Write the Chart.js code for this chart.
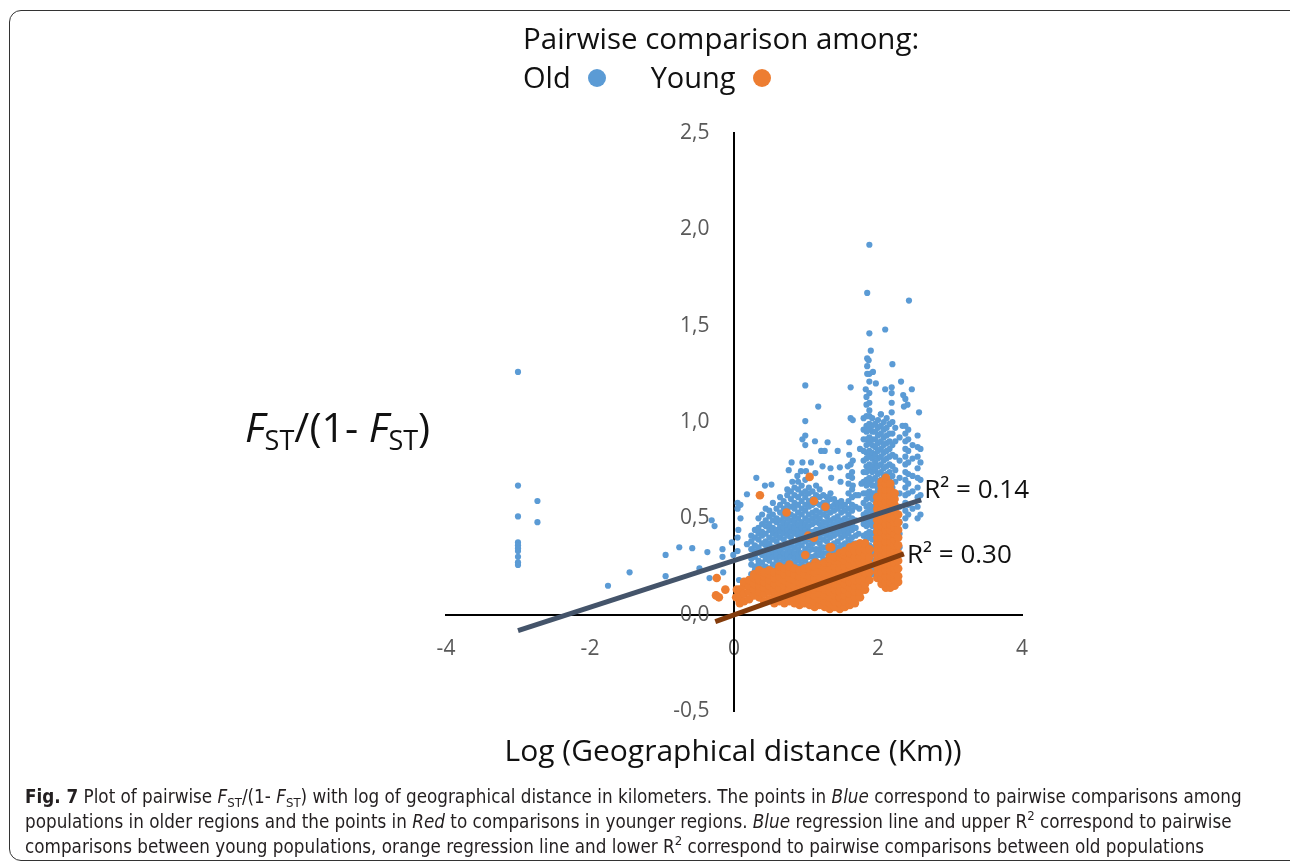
<!DOCTYPE html>
<html>
<head>
<meta charset="utf-8">
<script src="https://cdn.jsdelivr.net/npm/chart.js@4.4.1/dist/chart.umd.min.js"></script>
<style>
  html, body { margin: 0; padding: 0; background: #fff; }
  body { width: 1290px; height: 866px; position: relative; overflow: hidden; font-family: "Open Sans", sans-serif; }
  #frame { position: absolute; left: 9px; top: 10px; width: 1300px; height: 851px; border: 1.5px solid #333; border-radius: 12px; box-sizing: border-box; }
  #wrap { position: absolute; left: 0; top: 0; width: 1290px; height: 866px; }
  .title { position: absolute; left: 523px; top: 17px; font-size: 29.5px; color: #111; white-space: nowrap; }
  .legend { position: absolute; left: 523px; top: 57px; font-size: 29px; color: #111; white-space: nowrap; }
  .legend .dot { display: inline-block; width: 18px; height: 18px; border-radius: 50%; vertical-align: 1px; margin-left: 17px; }
  .ytitle { position: absolute; left: 245px; top: 398px; font-size: 41px; color: #111; white-space: nowrap; }
  .ytitle sub { font-size: 66%; vertical-align: -0.28em; line-height: 0; }
  .xtitle { position: absolute; left: 0; width: 1466px; top: 729px; text-align: center; font-size: 30px; color: #111; white-space: nowrap; }
  .caption { position: absolute; left: 25px; top: 784px; font-family: "DejaVu Sans Condensed", "Liberation Sans Narrow", sans-serif; font-stretch: condensed; font-size: 18.7px; line-height: 25px; color: #231f20; white-space: nowrap; }
  .caption sub, .caption sup { font-size: 70%; line-height: 0; }
  .caption sub { vertical-align: -0.3em; }
  .caption sup { vertical-align: 0.6em; }
</style>
</head>
<body>
<div id="frame"></div>
<div id="wrap"><canvas id="chart"></canvas></div>
<div class="title">Pairwise comparison among:</div>
<div class="legend">Old<span class="dot" style="background:#5B9BD5"></span><span style="margin-left:45px">Young</span><span class="dot" style="background:#ED7D31"></span></div>
<div class="ytitle"><i>F</i><sub>ST</sub>/(1- <i>F</i><sub>ST</sub>)</div>
<div class="xtitle">Log (Geographical distance (Km))</div>
<div class="caption"><b>Fig. 7</b> Plot of pairwise <i>F</i><sub>ST</sub>/(1- <i>F</i><sub>ST</sub>) with log of geographical distance in kilometers. The points in <i>Blue</i> correspond to pairwise comparisons among<br>populations in older regions and the points in <i>Red</i> to comparisons in younger regions. <i>Blue</i> regression line and upper R<sup>2</sup> correspond to pairwise<br>comparisons between young populations, orange regression line and lower R<sup>2</sup> correspond to pairwise comparisons between old populations</div>
<script>
// axis ticks
const xTicks = [-4, -2, 0, 2, 4];
const yTicks = [-0.5, 0, 0.5, 1.0, 1.5, 2.0, 2.5];

// Old populations: scattered single points [x, y]
const oldSingles = [
  [-3.0, 1.26], [-3.0, 0.67], [-3.0, 0.51], [-3.0, 0.375], [-3.0, 0.36], [-3.0, 0.345], [-3.0, 0.33], [-3.0, 0.30], [-3.0, 0.272], [-3.0, 0.258],
  [-2.73, 0.59], [-2.73, 0.48],
  [-1.75, 0.15], [-1.45, 0.22], [-0.95, 0.31], [-0.95, 0.20], [-0.76, 0.35], [-0.58, 0.345], [-0.48, 0.24], [-0.37, 0.325],
  [-0.34, 0.19], [-0.31, 0.49], [-0.27, 0.46], [-0.16, 0.34], [-0.16, 0.30], [-0.15, 0.22], [-0.03, 0.375], [-0.01, 0.31],
  [0.05, 0.58], [0.05, 0.55], [0.06, 0.44], [0.05, 0.40], [0.05, 0.33], [0.07, 0.18], [0.09, 0.57], [0.09, 0.50], [0.18, 0.625], [0.18, 0.366],
  [0.31, 0.71], [0.43, 0.67], [0.52, 0.675], [0.74, 0.65], [0.81, 0.69], [0.76, 0.75], [0.80, 0.79], [0.88, 0.72], [0.93, 0.745],
  [0.95, 0.79], [0.95, 0.91], [0.99, 1.19], [0.99, 1.005], [0.99, 0.93], [0.99, 0.88], [1.0, 0.745], [1.07, 0.79], [1.13, 0.735],
  [1.17, 1.08], [1.125, 0.90], [1.21, 0.85], [1.23, 0.77], [1.26, 0.85], [1.30, 0.895], [1.34, 0.76], [1.35, 0.71], [1.44, 0.85],
  [1.47, 0.765], [1.48, 0.69], [1.58, 0.77], [1.60, 0.895], [1.60, 0.83], [1.62, 1.18], [1.62, 1.02], [1.62, 0.78], [1.64, 0.71],
  [1.65, 1.01], [1.65, 0.80], [1.65, 0.67],
  [1.73, 0.42], [1.74, 0.55], [1.76, 0.33], [1.77, 0.68], [1.75, 0.86], [1.73, 0.62],
  [1.88, 1.92], [1.85, 1.67], [2.43, 1.63], [1.88, 1.46], [2.10, 1.48], [1.90, 1.37], [1.85, 1.33], [1.87, 1.32], [1.85, 1.29],
  [1.93, 1.26], [1.85, 1.25], [2.20, 1.30], [2.32, 1.21], [1.97, 1.20], [2.10, 1.17], [2.19, 1.18], [2.19, 1.15], [2.47, 1.17],
  [2.35, 1.14], [2.38, 1.12], [2.41, 1.09], [2.36, 1.08], [2.57, 1.05], [1.83, 1.17], [2.04, 1.04], [2.19, 1.10], [2.19, 1.05], [2.34, 0.98]
];

// Old populations: dense columns [x, [y values]]
const oldColumns = [
  [0.24, [0.17, 0.21, 0.26, 0.29, 0.34, 0.38, 0.41]],
  [0.29, [0.19, 0.23, 0.25, 0.30, 0.33, 0.36, 0.40, 0.44]],
  [0.34, [0.18, 0.22, 0.26, 0.28, 0.32, 0.35, 0.39, 0.42, 0.45, 0.50]],
  [0.39, [0.20, 0.24, 0.27, 0.31, 0.33, 0.37, 0.41, 0.43, 0.47, 0.52]],
  [0.44, [0.19, 0.23, 0.25, 0.29, 0.32, 0.36, 0.38, 0.42, 0.46, 0.49, 0.55]],
  [0.49, [0.21, 0.24, 0.28, 0.31, 0.34, 0.37, 0.40, 0.44, 0.47, 0.51, 0.54]],
  [0.54, [0.20, 0.23, 0.26, 0.30, 0.33, 0.35, 0.39, 0.42, 0.45, 0.49, 0.52, 0.58]],
  [0.59, [0.22, 0.25, 0.28, 0.31, 0.34, 0.38, 0.41, 0.44, 0.48, 0.50, 0.55]],
  [0.64, [0.21, 0.24, 0.27, 0.30, 0.33, 0.36, 0.40, 0.43, 0.46, 0.49, 0.53, 0.57, 0.61]],
  [0.69, [0.23, 0.26, 0.29, 0.32, 0.35, 0.39, 0.42, 0.45, 0.48, 0.51, 0.55, 0.59]],
  [0.74, [0.22, 0.25, 0.28, 0.31, 0.34, 0.37, 0.41, 0.44, 0.47, 0.50, 0.54, 0.57, 0.62]],
  [0.79, [0.24, 0.27, 0.30, 0.33, 0.36, 0.40, 0.43, 0.46, 0.49, 0.52, 0.56, 0.60, 0.64]],
  [0.84, [0.23, 0.26, 0.29, 0.32, 0.35, 0.38, 0.42, 0.45, 0.48, 0.51, 0.55, 0.58, 0.62, 0.66]],
  [0.89, [0.22, 0.25, 0.28, 0.31, 0.34, 0.37, 0.41, 0.44, 0.47, 0.50, 0.53, 0.57, 0.61, 0.65, 0.69]],
  [0.94, [0.23, 0.26, 0.29, 0.32, 0.36, 0.39, 0.42, 0.45, 0.48, 0.52, 0.55, 0.59, 0.63, 0.67]],
  [0.99, [0.22, 0.25, 0.28, 0.31, 0.34, 0.38, 0.41, 0.44, 0.47, 0.50, 0.54, 0.57, 0.61, 0.64, 0.70]],
  [1.04, [0.23, 0.26, 0.30, 0.33, 0.36, 0.39, 0.43, 0.46, 0.49, 0.52, 0.56, 0.59, 0.63, 0.66]],
  [1.09, [0.24, 0.27, 0.30, 0.34, 0.37, 0.40, 0.43, 0.47, 0.50, 0.53, 0.57, 0.60, 0.64]],
  [1.14, [0.25, 0.28, 0.31, 0.34, 0.38, 0.41, 0.44, 0.48, 0.51, 0.54, 0.58, 0.62, 0.67]],
  [1.19, [0.24, 0.27, 0.31, 0.34, 0.37, 0.40, 0.44, 0.47, 0.50, 0.53, 0.57, 0.61, 0.65]],
  [1.24, [0.26, 0.29, 0.32, 0.35, 0.39, 0.42, 0.45, 0.48, 0.52, 0.55, 0.58, 0.62]],
  [1.29, [0.25, 0.28, 0.32, 0.35, 0.38, 0.41, 0.45, 0.48, 0.51, 0.54, 0.58, 0.61]],
  [1.34, [0.27, 0.30, 0.33, 0.36, 0.40, 0.43, 0.46, 0.49, 0.53, 0.56, 0.60, 0.63]],
  [1.39, [0.28, 0.31, 0.34, 0.37, 0.41, 0.44, 0.47, 0.50, 0.54, 0.57, 0.60]],
  [1.44, [0.29, 0.32, 0.35, 0.38, 0.42, 0.45, 0.48, 0.51, 0.55, 0.58]],
  [1.49, [0.30, 0.33, 0.36, 0.40, 0.43, 0.46, 0.49, 0.53, 0.56, 0.59]],
  [1.54, [0.31, 0.34, 0.37, 0.41, 0.44, 0.47, 0.50, 0.54, 0.57]],
  [1.59, [0.33, 0.36, 0.39, 0.42, 0.45, 0.49, 0.52, 0.55, 0.59, 0.63, 0.68, 0.72]],
  [1.64, [0.34, 0.37, 0.40, 0.44, 0.47, 0.50, 0.54, 0.57, 0.61, 0.65, 0.74]],
  [1.69, [0.37, 0.41, 0.45, 0.49, 0.56, 0.62]],
  [1.80, [0.30, 0.36, 0.41, 0.47, 0.52, 0.58, 0.63, 0.69, 0.74, 0.80, 0.85, 0.91, 0.96, 1.02]],
  [1.84, [0.24, 0.28, 0.32, 0.35, 0.39, 0.42, 0.46, 0.49, 0.53, 0.56, 0.60, 0.63, 0.67, 0.70, 0.74, 0.77, 0.81, 0.84, 0.88, 0.91, 0.95, 0.98, 1.03, 1.09, 1.13]],
  [1.88, [0.22, 0.26, 0.29, 0.33, 0.36, 0.40, 0.43, 0.47, 0.50, 0.54, 0.57, 0.61, 0.64, 0.68, 0.71, 0.75, 0.78, 0.82, 0.85, 0.89, 0.92, 0.96, 0.99, 1.03, 1.06, 1.10, 1.15, 1.21, 1.25]],
  [1.92, [0.21, 0.25, 0.28, 0.32, 0.35, 0.39, 0.42, 0.46, 0.49, 0.53, 0.56, 0.60, 0.63, 0.67, 0.70, 0.74, 0.77, 0.81, 0.84, 0.88, 0.91, 0.95, 0.98, 1.02]],
  [1.96, [0.23, 0.27, 0.31, 0.35, 0.39, 0.43, 0.47, 0.51, 0.55, 0.59, 0.63, 0.67, 0.71, 0.75, 0.79, 0.83, 0.87, 0.91, 0.95, 0.99]],
  [2.00, [0.60, 0.65, 0.69, 0.73, 0.77, 0.81, 0.85, 0.89, 0.93, 0.97, 1.01]],
  [2.04, [0.70, 0.74, 0.78, 0.82, 0.86, 0.90, 0.94, 0.98, 1.04]],
  [2.08, [0.72, 0.76, 0.80, 0.84, 0.88, 0.92, 0.96, 1.00]],
  [2.12, [0.73, 0.77, 0.81, 0.85, 0.89, 0.93, 0.97, 1.02]],
  [2.16, [0.70, 0.74, 0.78, 0.82, 0.86, 0.90, 0.94, 0.99]],
  [2.20, [0.66, 0.72, 0.77, 0.83, 0.88, 0.94, 1.00]],
  [2.24, [0.55, 0.62, 0.69, 0.75, 0.82, 0.90, 0.97]],
  [2.30, [0.35, 0.42, 0.48, 0.56, 0.63, 0.71, 0.80, 0.92]],
  [2.38, [0.46, 0.50, 0.54, 0.58, 0.62, 0.66, 0.70, 0.74, 0.78, 0.82, 0.86, 0.90, 0.94, 0.98]],
  [2.42, [0.52, 0.57, 0.63, 0.68, 0.73, 0.79, 0.85, 0.91, 0.96]],
  [2.48, [0.55, 0.64, 0.72, 0.81, 0.88]],
  [2.55, [0.50, 0.56, 0.61, 0.66, 0.71, 0.76, 0.82, 0.87, 0.93]],
  [2.59, [0.52, 0.62, 0.70, 0.79, 0.86]]
];

// Young populations: scattered single points [x, y]
const youngSingles = [
  [-0.24, 0.19], [-0.25, 0.10], [-0.21, 0.09], [-0.12, 0.13], [0.04, 0.13], [0.03, 0.09],
  [0.36, 0.62], [0.73, 0.53], [0.77, 0.26], [0.99, 0.31], [1.03, 0.41], [1.05, 0.715], [1.11, 0.59],
  [1.11, 0.40], [1.13, 0.27], [1.27, 0.56], [1.33, 0.35], [1.35, 0.35], [1.33, 0.30]
];

// Young populations: dense columns [x, [y values]]
const youngColumns = [
  [0.08, [0.06, 0.10, 0.13]],
  [0.14, [0.07, 0.11, 0.15, 0.17]],
  [0.21, [0.08, 0.12, 0.15, 0.18]],
  [0.28, [0.10, 0.13, 0.16, 0.19, 0.21]],
  [0.35, [0.09, 0.12, 0.15, 0.18, 0.21, 0.23]],
  [0.42, [0.07, 0.11, 0.14, 0.17, 0.20, 0.22]],
  [0.49, [0.08, 0.12, 0.15, 0.18, 0.21, 0.23]],
  [0.56, [0.06, 0.09, 0.13, 0.16, 0.19, 0.22]],
  [0.63, [0.07, 0.10, 0.14, 0.17, 0.20, 0.23, 0.25]],
  [0.70, [0.06, 0.09, 0.12, 0.15, 0.18, 0.21, 0.24]],
  [0.77, [0.07, 0.10, 0.13, 0.16, 0.19, 0.22, 0.25]],
  [0.84, [0.06, 0.09, 0.12, 0.15, 0.18, 0.21, 0.24]],
  [0.91, [0.05, 0.08, 0.11, 0.14, 0.17, 0.20, 0.23]],
  [0.98, [0.06, 0.09, 0.12, 0.15, 0.18, 0.21, 0.24]],
  [1.05, [0.05, 0.08, 0.11, 0.14, 0.17, 0.20, 0.23, 0.25]],
  [1.12, [0.04, 0.07, 0.10, 0.13, 0.16, 0.19, 0.22, 0.25]],
  [1.19, [0.05, 0.08, 0.11, 0.14, 0.17, 0.20, 0.23, 0.26]],
  [1.26, [0.04, 0.07, 0.10, 0.13, 0.16, 0.19, 0.22, 0.25, 0.27]],
  [1.33, [0.03, 0.06, 0.09, 0.12, 0.15, 0.18, 0.21, 0.24, 0.27, 0.29]],
  [1.40, [0.04, 0.07, 0.10, 0.13, 0.16, 0.19, 0.22, 0.25, 0.28, 0.30]],
  [1.47, [0.03, 0.06, 0.09, 0.12, 0.15, 0.18, 0.21, 0.24, 0.27, 0.30, 0.32]],
  [1.54, [0.04, 0.07, 0.10, 0.13, 0.16, 0.19, 0.22, 0.25, 0.28, 0.31, 0.33]],
  [1.61, [0.05, 0.08, 0.11, 0.14, 0.17, 0.20, 0.23, 0.26, 0.29, 0.32, 0.35]],
  [1.68, [0.06, 0.09, 0.12, 0.15, 0.18, 0.21, 0.24, 0.27, 0.30, 0.33, 0.36]],
  [1.75, [0.09, 0.12, 0.15, 0.18, 0.21, 0.24, 0.27, 0.30, 0.33, 0.37]],
  [1.82, [0.13, 0.16, 0.19, 0.22, 0.25, 0.28, 0.31, 0.34, 0.37]],
  [1.88, [0.18, 0.22, 0.26, 0.30, 0.34]],
  [1.99, [0.19, 0.22, 0.25, 0.28, 0.31, 0.34, 0.37, 0.40, 0.43, 0.46, 0.49, 0.52, 0.55, 0.58, 0.61]],
  [2.05, [0.16, 0.19, 0.22, 0.25, 0.28, 0.31, 0.34, 0.37, 0.40, 0.43, 0.46, 0.49, 0.52, 0.55, 0.58, 0.61, 0.64, 0.67, 0.69]],
  [2.11, [0.14, 0.17, 0.20, 0.23, 0.26, 0.29, 0.32, 0.35, 0.38, 0.41, 0.44, 0.47, 0.50, 0.53, 0.56, 0.59, 0.62, 0.65, 0.68, 0.71]],
  [2.17, [0.14, 0.17, 0.20, 0.23, 0.26, 0.29, 0.32, 0.35, 0.38, 0.41, 0.44, 0.47, 0.50, 0.53, 0.56, 0.59, 0.62, 0.65, 0.68]],
  [2.23, [0.15, 0.18, 0.21, 0.24, 0.27, 0.30, 0.33, 0.36, 0.39, 0.42, 0.45, 0.48, 0.51, 0.54, 0.57, 0.60, 0.63]],
  [2.28, [0.17, 0.20, 0.24, 0.28, 0.32, 0.36, 0.40, 0.44, 0.48, 0.52]]
];

// regression lines (end points) and their labels
const trendUpper = [[-3.0, -0.083], [2.6, 0.596]];
const trendLower = [[-0.26, -0.036], [2.36, 0.316]];
const trendLabels = ['R² = 0.14', 'R² = 0.30'];

const FONT = '"Open Sans", sans-serif';

function toPoints(singles, columns) {
    const pts = singles.map(p => ({ x: p[0], y: p[1] }));
    columns.forEach(col => {
        col[1].forEach(y => pts.push({ x: col[0], y: y }));
    });
    return pts;
}

// draws the R² text next to the end of each regression line
const r2Labels = {
    id: 'r2Labels',
    afterDatasetsDraw(chart) {
        const ctx = chart.ctx;
        const xs = chart.scales.x, ys = chart.scales.y;
        const dy = [-9, 2];   // upper label sits above its line end, lower one level with it
        ctx.save();
        ctx.font = '26px ' + FONT;
        ctx.fillStyle = '#111';
        ctx.textBaseline = 'middle';
        [trendUpper, trendLower].forEach((line, i) => {
            const end = line[line.length - 1];
            ctx.fillText(trendLabels[i], xs.getPixelForValue(end[0]) + 3, ys.getPixelForValue(end[1]) + dy[i]);
        });
        ctx.restore();
    }
};

new Chart(document.getElementById('chart'), {
    type: 'scatter',
    data: {
        datasets: [
            {
                type: 'line',
                label: 'trend upper',
                data: trendUpper.map(p => ({ x: p[0], y: p[1] })),
                borderColor: '#44546A',
                borderWidth: 5,
                pointRadius: 0,
                order: 0
            },
            {
                type: 'line',
                label: 'trend lower',
                data: trendLower.map(p => ({ x: p[0], y: p[1] })),
                borderColor: '#843C0C',
                borderWidth: 5,
                pointRadius: 0,
                order: 0
            },
            {
                label: 'Young',
                data: toPoints(youngSingles, youngColumns),
                backgroundColor: '#ED7D31',
                borderWidth: 0,
                pointRadius: 4.3,
                order: 1
            },
            {
                label: 'Old',
                data: toPoints(oldSingles, oldColumns),
                backgroundColor: '#5B9BD5',
                borderWidth: 0,
                pointRadius: 3.1,
                order: 2
            }
        ]
    },
    options: {
        responsive: true,
        maintainAspectRatio: false,
        animation: false,
        layout: { padding: { left: 446, right: 268, top: 133, bottom: 155 } },
        plugins: { legend: { display: false }, tooltip: { enabled: false } },
        scales: {
            x: {
                type: 'linear',
                min: -4,
                max: 4,
                position: { y: 0 },
                afterFit: s => { s.height = 0; },
                afterBuildTicks: s => { s.ticks = xTicks.map(v => ({ value: v })); },
                ticks: { padding: 22, color: '#595959', font: { family: FONT, size: 21 } },
                grid: { display: false, drawTicks: false },
                border: { display: true, color: '#000', width: 2 }
            },
            y: {
                type: 'linear',
                min: -0.5,
                max: 2.5,
                position: { x: 0 },
                afterFit: s => { s.width = 0; },
                afterBuildTicks: s => { s.ticks = yTicks.map(v => ({ value: v })); },
                ticks: {
                    color: '#595959',
                    font: { family: FONT, size: 21 },
                    // a centred axis gets no label padding, so a trailing em space keeps the labels off the line
                    callback: v => v.toFixed(1).replace('.', ',') + '\u2003\u2009'
                },
                grid: { display: false, drawTicks: false },
                border: { display: true, color: '#000', width: 2 }
            }
        }
    },
    plugins: [r2Labels]
});
</script>
</body>
</html>
